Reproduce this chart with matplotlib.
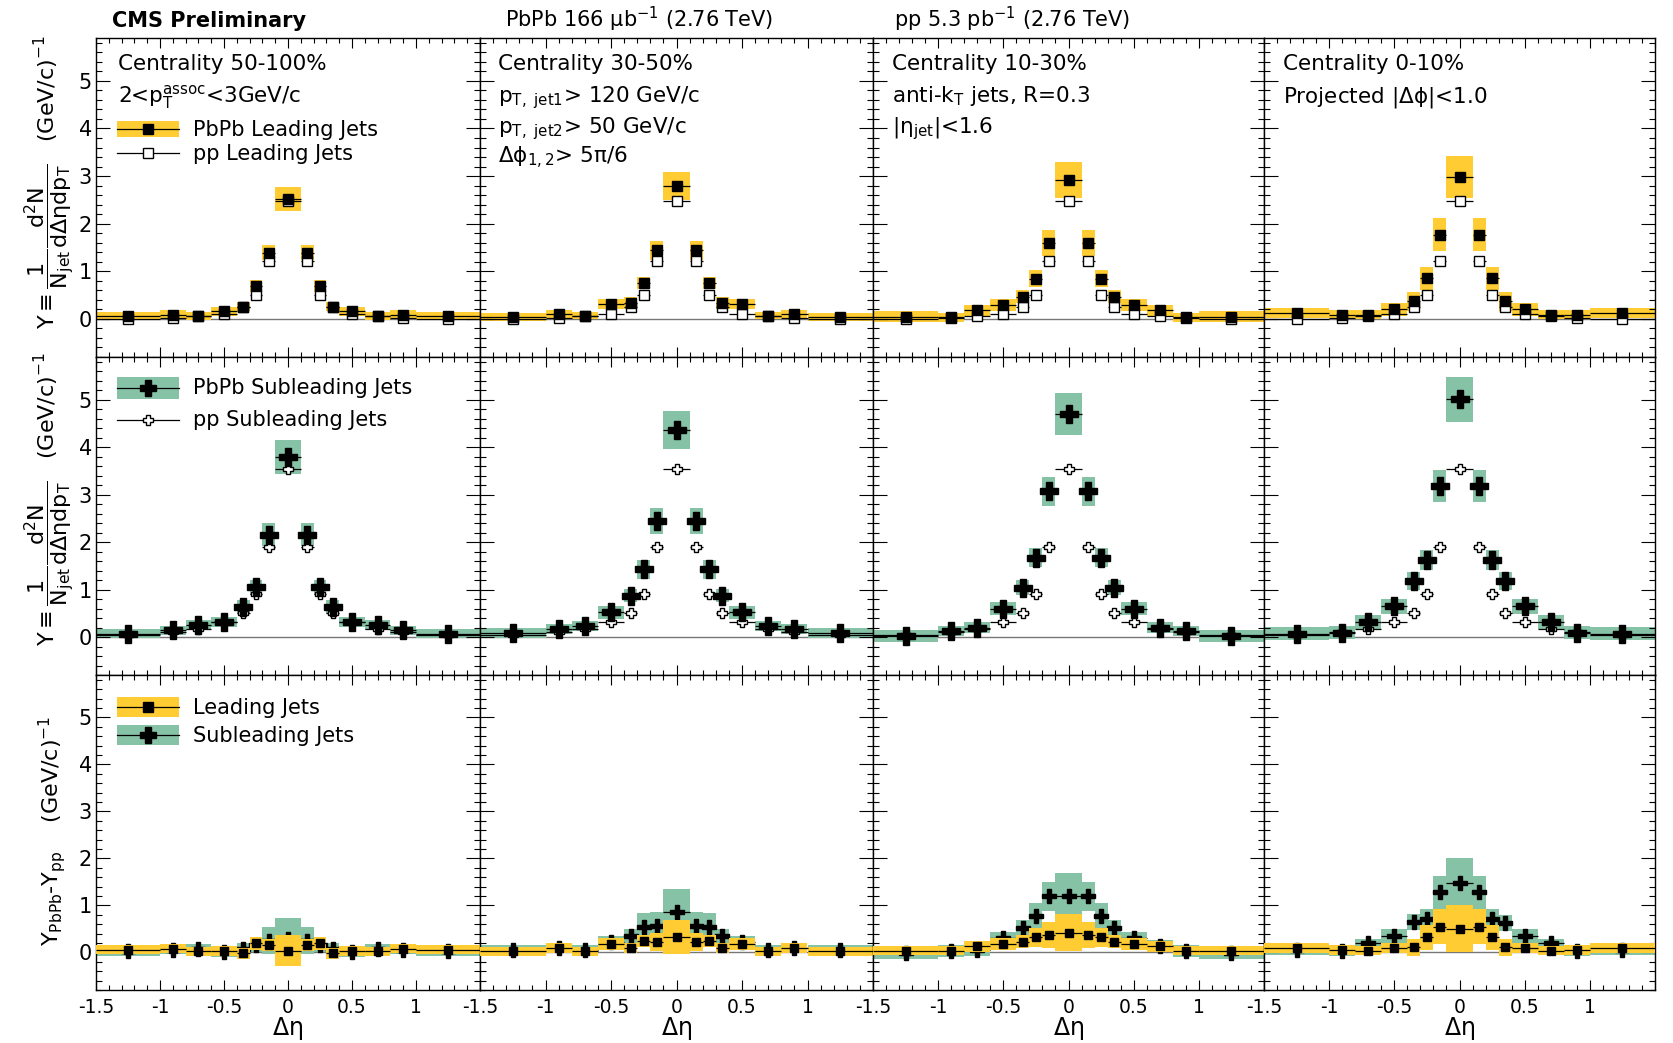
import matplotlib.pyplot as plt
import numpy as np
from matplotlib.patches import Rectangle
from matplotlib.lines import Line2D
from matplotlib.ticker import MultipleLocator

plt.rcParams['font.family'] = ['DejaVu Sans']
plt.rcParams['mathtext.default'] = 'regular'

# delta-eta binning (variable width)
edges = [-1.5, -1.0, -0.8, -0.6, -0.4, -0.3, -0.2, -0.1, 0.1, 0.2, 0.3, 0.4, 0.6, 0.8, 1.0, 1.5]

centralities = ["50-100%", "30-50%", "10-30%", "0-10%"]

# --- leading jets: PbPb yields and systematic half-heights ---
lead_pbpb_50_100 = [0.06, 0.09, 0.06, 0.16, 0.26, 0.69, 1.39, 2.52, 1.39, 0.69, 0.26, 0.16, 0.06, 0.09, 0.06]
lead_pbpb_30_50 = [0.04, 0.10, 0.07, 0.31, 0.33, 0.75, 1.44, 2.79, 1.44, 0.75, 0.33, 0.31, 0.07, 0.10, 0.04]
lead_pbpb_10_30 = [0.05, 0.03, 0.18, 0.29, 0.47, 0.84, 1.59, 2.91, 1.59, 0.84, 0.47, 0.29, 0.18, 0.03, 0.05]
lead_pbpb_0_10 = [0.12, 0.09, 0.09, 0.20, 0.37, 0.85, 1.77, 2.98, 1.77, 0.85, 0.37, 0.20, 0.09, 0.09, 0.12]

sys_lead_50_100 = [0.09, 0.10, 0.08, 0.10, 0.09, 0.12, 0.16, 0.25, 0.16, 0.12, 0.09, 0.10, 0.08, 0.10, 0.09]
sys_lead_30_50 = [0.09, 0.09, 0.08, 0.10, 0.12, 0.12, 0.20, 0.30, 0.20, 0.12, 0.12, 0.10, 0.08, 0.09, 0.09]
sys_lead_10_30 = [0.12, 0.10, 0.12, 0.13, 0.13, 0.18, 0.27, 0.38, 0.27, 0.18, 0.13, 0.13, 0.12, 0.10, 0.12]
sys_lead_0_10 = [0.10, 0.10, 0.10, 0.13, 0.20, 0.25, 0.35, 0.44, 0.35, 0.25, 0.20, 0.13, 0.10, 0.10, 0.10]

pp_lead = [-0.01, 0.02, 0.07, 0.11, 0.26, 0.51, 1.22, 2.47, 1.22, 0.51, 0.26, 0.11, 0.07, 0.02, -0.01]

# --- subleading jets ---
sub_pbpb_50_100 = [0.07, 0.14, 0.25, 0.32, 0.64, 1.05, 2.16, 3.80, 2.16, 1.05, 0.64, 0.32, 0.25, 0.14, 0.07]
sub_pbpb_30_50 = [0.08, 0.17, 0.23, 0.52, 0.87, 1.43, 2.44, 4.37, 2.44, 1.43, 0.87, 0.52, 0.23, 0.17, 0.08]
sub_pbpb_10_30 = [0.02, 0.13, 0.20, 0.60, 1.04, 1.67, 3.07, 4.70, 3.07, 1.67, 1.04, 0.60, 0.20, 0.13, 0.02]
sub_pbpb_0_10 = [0.07, 0.09, 0.32, 0.65, 1.18, 1.63, 3.18, 5.01, 3.18, 1.63, 1.18, 0.65, 0.32, 0.09, 0.07]

sys_sub_50_100 = [0.10, 0.10, 0.10, 0.10, 0.15, 0.16, 0.25, 0.36, 0.25, 0.16, 0.15, 0.10, 0.10, 0.10, 0.10]
sys_sub_30_50 = [0.10, 0.10, 0.10, 0.13, 0.14, 0.20, 0.27, 0.40, 0.27, 0.20, 0.14, 0.13, 0.10, 0.10, 0.10]
sys_sub_10_30 = [0.12, 0.11, 0.12, 0.14, 0.16, 0.20, 0.30, 0.44, 0.30, 0.20, 0.16, 0.14, 0.12, 0.11, 0.12]
sys_sub_0_10 = [0.14, 0.14, 0.15, 0.16, 0.19, 0.21, 0.33, 0.47, 0.33, 0.21, 0.19, 0.16, 0.15, 0.14, 0.14]

pp_sub = [0.05, 0.11, 0.16, 0.32, 0.51, 0.90, 1.89, 3.53, 1.89, 0.90, 0.51, 0.32, 0.16, 0.11, 0.05]

# --- PbPb - pp differences ---
diff_lead_50_100 = [0.06, 0.08, 0.02, 0.03, -0.02, 0.19, 0.16, 0.03, 0.16, 0.19, -0.02, 0.03, 0.02, 0.08, 0.06]
diff_lead_30_50 = [0.02, 0.09, 0.02, 0.18, 0.09, 0.25, 0.22, 0.32, 0.22, 0.25, 0.09, 0.18, 0.02, 0.09, 0.02]
diff_lead_10_30 = [0.04, 0.04, 0.13, 0.18, 0.23, 0.32, 0.37, 0.42, 0.37, 0.32, 0.23, 0.18, 0.13, 0.04, 0.04]
diff_lead_0_10 = [0.09, 0.05, 0.04, 0.09, 0.11, 0.32, 0.55, 0.50, 0.55, 0.32, 0.11, 0.09, 0.04, 0.05, 0.09]

sys_dlead_50_100 = [0.10, 0.10, 0.10, 0.10, 0.12, 0.13, 0.13, 0.33, 0.13, 0.13, 0.12, 0.10, 0.10, 0.10, 0.10]
sys_dlead_30_50 = [0.10, 0.10, 0.10, 0.13, 0.10, 0.13, 0.20, 0.36, 0.20, 0.13, 0.10, 0.13, 0.10, 0.10, 0.10]
sys_dlead_10_30 = [0.10, 0.10, 0.12, 0.12, 0.14, 0.20, 0.27, 0.40, 0.27, 0.20, 0.14, 0.12, 0.12, 0.10, 0.10]
sys_dlead_0_10 = [0.10, 0.10, 0.10, 0.10, 0.18, 0.26, 0.37, 0.50, 0.37, 0.26, 0.18, 0.10, 0.10, 0.10, 0.10]

diff_sub_50_100 = [0.02, 0.06, 0.07, 0.00, 0.07, 0.16, 0.25, 0.28, 0.25, 0.16, 0.07, 0.00, 0.07, 0.06, 0.02]
diff_sub_30_50 = [0.05, 0.09, 0.06, 0.22, 0.34, 0.54, 0.56, 0.85, 0.56, 0.53, 0.35, 0.22, 0.06, 0.09, 0.05]
diff_sub_10_30 = [-0.01, 0.03, 0.05, 0.30, 0.52, 0.78, 1.19, 1.19, 1.19, 0.78, 0.52, 0.30, 0.13, 0.03, -0.01]
diff_sub_0_10 = [0.05, 0.03, 0.19, 0.35, 0.64, 0.71, 1.28, 1.47, 1.28, 0.72, 0.62, 0.35, 0.19, 0.03, 0.05]

sys_dsub_50_100 = [0.10, 0.10, 0.10, 0.10, 0.12, 0.16, 0.28, 0.45, 0.28, 0.16, 0.12, 0.10, 0.10, 0.10, 0.10]
sys_dsub_30_50 = [0.10, 0.10, 0.10, 0.12, 0.15, 0.30, 0.30, 0.49, 0.30, 0.30, 0.15, 0.12, 0.10, 0.10, 0.10]
sys_dsub_10_30 = [0.12, 0.12, 0.13, 0.14, 0.16, 0.27, 0.31, 0.50, 0.31, 0.27, 0.16, 0.14, 0.13, 0.12, 0.12]
sys_dsub_0_10 = [0.10, 0.10, 0.10, 0.15, 0.17, 0.21, 0.35, 0.53, 0.35, 0.21, 0.17, 0.15, 0.10, 0.10, 0.10]

lead_pbpb = [lead_pbpb_50_100, lead_pbpb_30_50, lead_pbpb_10_30, lead_pbpb_0_10]
sys_lead = [sys_lead_50_100, sys_lead_30_50, sys_lead_10_30, sys_lead_0_10]
sub_pbpb = [sub_pbpb_50_100, sub_pbpb_30_50, sub_pbpb_10_30, sub_pbpb_0_10]
sys_sub = [sys_sub_50_100, sys_sub_30_50, sys_sub_10_30, sys_sub_0_10]
diff_lead = [diff_lead_50_100, diff_lead_30_50, diff_lead_10_30, diff_lead_0_10]
sys_dlead = [sys_dlead_50_100, sys_dlead_30_50, sys_dlead_10_30, sys_dlead_0_10]
diff_sub = [diff_sub_50_100, diff_sub_30_50, diff_sub_10_30, diff_sub_0_10]
sys_dsub = [sys_dsub_50_100, sys_dsub_30_50, sys_dsub_10_30, sys_dsub_0_10]

xtick_vals = [-1.5, -1, -0.5, 0, 0.5, 1, 1.5]
xtick_labels = ["-1.5", "-1", "-0.5", "0", "0.5", "1", ""]

YELLOW = "#ffcc33"
GREEN = "#86c2a5"

W, H = 1673, 1043
fig = plt.figure(figsize=(W / 100, H / 100), dpi=100)


def fx(x):
    return x / W


def fy(y):
    return 1 - y / H


col_edges = [96, 480, 873, 1264, 1655]
row_edges = [38, 357, 675, 990]

edges_a = np.array(edges)
eta = (edges_a[:-1] + edges_a[1:]) / 2
hw = (edges_a[1:] - edges_a[:-1]) / 2


def band(ax, y, s, color, z):
    y = np.array(y)
    s = np.array(s)
    ax.bar(eta, 2 * s, width=2 * hw, bottom=y - s, color=color, linewidth=0, zorder=z)


def points(ax, y, marker, ms, mfc, z):
    ax.errorbar(eta, y, xerr=hw, fmt='none', ecolor='k', elinewidth=0.9, capsize=0, zorder=z)
    ax.plot(eta, y, ls='none', marker=marker, ms=ms, mfc=mfc, mec='k', mew=1.0, zorder=z + 0.1)


for r in range(3):
    for c in range(4):
        x0, x1 = col_edges[c], col_edges[c + 1]
        y0, y1 = row_edges[r], row_edges[r + 1]
        ax = fig.add_axes([fx(x0), fy(y1), (x1 - x0) / W, (y1 - y0) / H])
        ax.set_xlim(-1.5, 1.5)
        ax.set_ylim(-0.8, 5.9)
        ax.axhline(0, color='#777777', lw=1.0, zorder=0.5)

        if r == 0:
            band(ax, lead_pbpb[c], sys_lead[c], YELLOW, 1)
            points(ax, pp_lead, 's', 6.5, 'white', 3)
            points(ax, lead_pbpb[c], 's', 6.5, 'k', 4)
        elif r == 1:
            band(ax, sub_pbpb[c], sys_sub[c], GREEN, 1)
            points(ax, pp_sub, 'P', 7.5, 'white', 3)
            points(ax, sub_pbpb[c], 'P', 13, 'k', 4)
        else:
            # subleading goes underneath the leading band
            band(ax, diff_sub[c], sys_dsub[c], GREEN, 1)
            points(ax, diff_sub[c], 'P', 10, 'k', 2)
            band(ax, diff_lead[c], sys_dlead[c], YELLOW, 3)
            points(ax, diff_lead[c], 's', 6, 'k', 4)

        ax.set_xticks(xtick_vals)
        ax.xaxis.set_minor_locator(MultipleLocator(0.1))
        ax.yaxis.set_major_locator(MultipleLocator(1))
        ax.yaxis.set_minor_locator(MultipleLocator(0.2))
        ax.tick_params(which='both', direction='in', top=True, right=True, width=0.8)
        ax.tick_params(axis='y', which='major', length=10, labelsize=15, pad=3)
        ax.tick_params(axis='y', which='minor', length=4.5)
        ax.tick_params(axis='x', which='major', length=7, labelsize=13.5, pad=6)
        ax.tick_params(axis='x', which='minor', length=3.5)
        if r == 2:
            ax.set_xticklabels(xtick_labels)
        else:
            ax.tick_params(axis='x', labelbottom=False)
        if c != 0:
            ax.tick_params(axis='y', labelleft=False)
        for sp in ax.spines.values():
            sp.set_linewidth(1.0)

# headers
fig.text(fx(112), fy(27), "CMS Preliminary", fontsize=15, fontweight='bold', va='baseline')
fig.text(fx(505), fy(27), r"PbPb 166 $\mu$b$^{-1}$ (2.76 TeV)", fontsize=15, va='baseline')
fig.text(fx(894), fy(27), r"pp 5.3 pb$^{-1}$ (2.76 TeV)", fontsize=15, va='baseline')

# selection labels
FS = 15.5
col_text_x = [118, 498, 892, 1283]
fig.text(fx(col_text_x[0]), fy(70), "Centrality " + centralities[0], fontsize=FS, va='baseline')
fig.text(fx(col_text_x[0]), fy(102), r"2<p$_T^{assoc}$<3GeV/c", fontsize=FS, va='baseline')
fig.text(fx(col_text_x[1]), fy(70), "Centrality " + centralities[1], fontsize=FS, va='baseline')
fig.text(fx(col_text_x[1]), fy(102), r"p$_{T,\ jet1}$> 120 GeV/c", fontsize=FS, va='baseline')
fig.text(fx(col_text_x[1]), fy(133), r"p$_{T,\ jet2}$> 50 GeV/c", fontsize=FS, va='baseline')
fig.text(fx(col_text_x[1]), fy(163), r"$\Delta\phi_{1,2}$> 5$\pi$/6", fontsize=FS, va='baseline')
fig.text(fx(col_text_x[2]), fy(70), "Centrality " + centralities[2], fontsize=FS, va='baseline')
fig.text(fx(col_text_x[2]), fy(102), r"anti-k$_T$ jets, R=0.3", fontsize=FS, va='baseline')
fig.text(fx(col_text_x[2]), fy(133), r"|$\eta_{jet}$|<1.6", fontsize=FS, va='baseline')
fig.text(fx(col_text_x[3]), fy(70), "Centrality " + centralities[3], fontsize=FS, va='baseline')
fig.text(fx(col_text_x[3]), fy(102), r"Projected |$\Delta\phi$|<1.0", fontsize=FS, va='baseline')


def legend_entry(yc, box_h, color, marker, ms, mfc, label):
    lx0, lx1 = 117, 179
    if color is not None:
        fig.add_artist(Rectangle((fx(lx0), fy(yc + box_h / 2)), (lx1 - lx0) / W, box_h / H,
                                 transform=fig.transFigure, color=color, lw=0))
    fig.add_artist(Line2D([fx(lx0), fx(lx1)], [fy(yc), fy(yc)], transform=fig.transFigure,
                          color='k', lw=0.9))
    fig.add_artist(Line2D([fx((lx0 + lx1) / 2)], [fy(yc)], transform=fig.transFigure, ls='none',
                          marker=marker, ms=ms, mfc=mfc, mec='k', mew=1.0))
    fig.text(fx(193), fy(yc + 6.5), label, fontsize=15, va='baseline')


legend_entry(129, 16, YELLOW, 's', 6.5, 'k', "PbPb Leading Jets")
legend_entry(153, 0, None, 's', 6.5, 'white', "pp Leading Jets")
legend_entry(388, 22, GREEN, 'P', 12, 'k', "PbPb Subleading Jets")
legend_entry(420, 0, None, 'P', 7.5, 'white', "pp Subleading Jets")
legend_entry(707, 20, YELLOW, 's', 6.5, 'k', "Leading Jets")
legend_entry(735, 20, GREEN, 'P', 11, 'k', "Subleading Jets")

# y-axis titles
ylab = r"$Y \equiv \dfrac{1}{N_{jet}}\dfrac{d^{2}N}{d\Delta\eta dp_{T}}$   (GeV/c)$^{-1}$"
fig.text(fx(50), fy(182), ylab, rotation=90, ha='center', va='center', fontsize=16)
fig.text(fx(50), fy(499), ylab, rotation=90, ha='center', va='center', fontsize=16)
fig.text(fx(52), fy(831), r"Y$_{PbPb}$-Y$_{pp}$    (GeV/c)$^{-1}$", rotation=90,
         ha='center', va='center', fontsize=16)

# x-axis titles
for c in range(4):
    xc = (col_edges[c] + col_edges[c + 1]) / 2
    fig.text(fx(xc), fy(1028), r"$\Delta\eta$", ha='center', va='center', fontsize=17)

fig.savefig("out.png", dpi=100)
